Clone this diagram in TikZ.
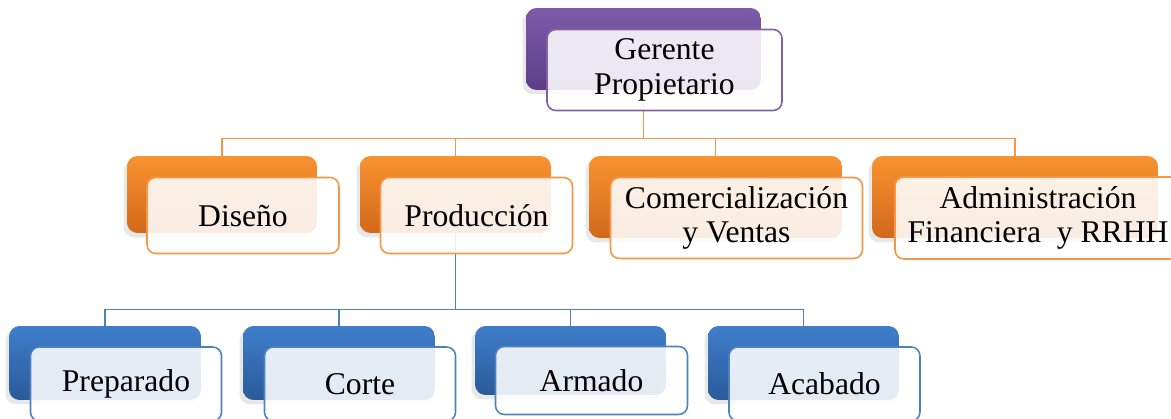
\documentclass[tikz,border=0pt]{standalone}
\usepackage{fontspec}
\setmainfont{Liberation Serif}
\usetikzlibrary{backgrounds, shadows}

\definecolor{purtop}{HTML}{7D5BAA}
\definecolor{purbot}{HTML}{5C3E86}
\definecolor{purline}{HTML}{7F62A6}
\definecolor{ortop}{HTML}{F8932F}
\definecolor{orbot}{HTML}{D2681C}
\definecolor{orline}{HTML}{F79646}
\definecolor{bltop}{HTML}{3F7ECB}
\definecolor{blbot}{HTML}{2A5A9A}
\definecolor{blline}{HTML}{4F81BD}

\begin{document}
\begin{tikzpicture}[x=0.02cm, y=-0.02cm,
    back/.style={rounded corners=6pt, inner sep=0pt,
        drop shadow={shadow xshift=-2pt, shadow yshift=-2.5pt, opacity=0.18}},
    front/.style={draw, line width=0.9pt, fill=white, fill opacity=0.88, text opacity=1,
        rounded corners=5pt, inner sep=0pt, align=center,
        font=\fontsize{18}{19.5}\selectfont},
    purback/.style={back, top color=purtop, bottom color=purbot},
    orback/.style={back, top color=ortop, bottom color=orbot},
    blback/.style={back, top color=bltop, bottom color=blbot},
    purfront/.style={front, draw=purline},
    orfront/.style={front, draw=orline},
    blfront/.style={front, draw=blline},
    orwire/.style={draw=orline, line width=0.9pt},
    blwire/.style={draw=blline, line width=0.9pt}]
    \useasboundingbox (0,0) rectangle (1171,419);
    \clip (0,0) rectangle (1171,419);

    % Top of the chart
    \node[purback, minimum width=4.7cm, minimum height=1.64cm] (gp) at (643.5,49) {};
    \node[purfront, minimum width=4.7cm, minimum height=1.62cm] (gpT) at ([shift={(21,21)}]gp.center) {Gerente\\Propietario};

    % Areas
    \node[orback, minimum width=3.8cm, minimum height=1.54cm] (dis) at (222,194.5) {};
    \node[orback, minimum width=3.82cm, minimum height=1.54cm] (pro) at (455.5,194.5) {};
    \node[orback, minimum width=5.06cm, minimum height=1.64cm] (com) at (715.5,197) {};
    \node[orback, minimum width=5.72cm, minimum height=1.64cm] (adm) at (1015,197) {};
    \node[orfront, minimum width=3.84cm, minimum height=1.52cm] (disT) at ([shift={(21,21)}]dis.center) {Diseño};
    \node[orfront, minimum width=3.84cm, minimum height=1.52cm] (proT) at ([shift={(21,21)}]pro.center) {Producción};
    \node[orfront, minimum width=5.04cm, minimum height=1.62cm] (comT) at ([shift={(21,21)}]com.center) {Comercialización\\y Ventas};
    \node[orfront, minimum width=5.72cm, minimum height=1.64cm] (admT) at ([shift={(23,21)}]adm.center) {Administración\\Financiera~ y RRHH};

    % Production steps
    \node[blback, minimum width=3.84cm, minimum height=1.48cm] (pre) at (105,363) {};
    \node[blback, minimum width=3.84cm, minimum height=1.48cm] (cor) at (339,363) {};
    \node[blback, minimum width=3.82cm, minimum height=1.38cm] (arm) at (570.5,360.5) {};
    \node[blback, minimum width=3.82cm, minimum height=1.48cm] (aca) at (803.5,363) {};
    \node[blfront, minimum width=3.82cm, minimum height=1.48cm] (preT) at ([shift={(21,21)}]pre.center) {Preparado};
    \node[blfront, minimum width=3.82cm, minimum height=1.48cm] (corT) at ([shift={(21,21)}]cor.center) {Corte};
    \node[blfront, minimum width=3.84cm, minimum height=1.36cm] (armT) at ([shift={(21,20)}]arm.center) {Armado};
    \node[blfront, minimum width=3.82cm, minimum height=1.48cm] (acaT) at ([shift={(21,21)}]aca.center) {Acabado};

    % Connectors
    \begin{scope}[on background layer]
        \path (gp.south) ++(0,48) coordinate (busO);
        \path (pro.south) ++(0,76) coordinate (busB);
        \draw[orwire] (gp.south) -- (busO);
        \draw[orwire] (busO) -| (dis.north);
        \draw[orwire] (busO) -| (pro.north);
        \draw[orwire] (busO) -| (com.north);
        \draw[orwire] (busO) -| (adm.north);
        \draw[blwire] (pro.south) -- (busB);
        \draw[blwire] (busB) -| (pre.north);
        \draw[blwire] (busB) -| (cor.north);
        \draw[blwire] (busB) -| (arm.north);
        \draw[blwire] (busB) -| (aca.north);
    \end{scope}
\end{tikzpicture}
\end{document}
